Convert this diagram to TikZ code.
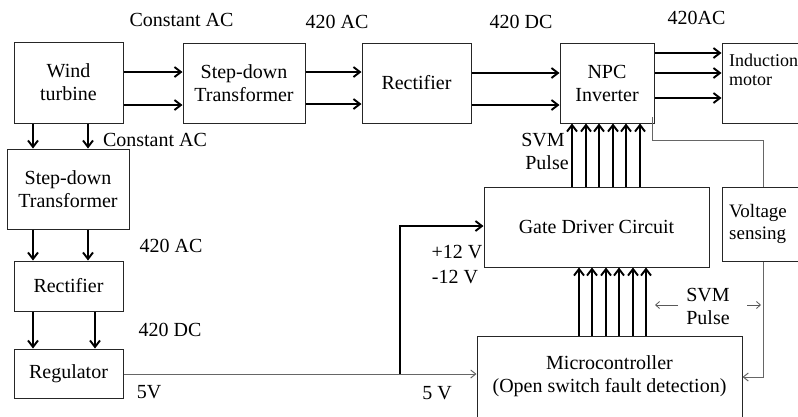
\documentclass[tikz,border=0pt]{standalone}
\usepackage{fontspec}
\setmainfont{Liberation Serif}
\usetikzlibrary{arrows.meta}
\begin{document}
\begin{tikzpicture}[x=1pt,y=-1pt,
  every node/.style={font=\fontsize{20}{23}\selectfont, inner sep=0pt},
  box/.style={draw=black!85, line width=1pt, align=center},
  arr/.style={line width=1.9pt, -{Straight Barb[length=6.5pt,width=10pt]}},
  gline/.style={draw=black!60, line width=1pt},
  garr/.style={draw=black!60, line width=1pt, -{Straight Barb[length=5pt,width=8pt]}},
  sarr/.style={draw=black!65, line width=0.8pt, -{Straight Barb[length=4pt,width=7pt]}},
  lbl/.style={anchor=center}]
\useasboundingbox (0,0) rectangle (798,416);
\clip (0,0) rectangle (798,416);
% boxes
\node[box, minimum width=109pt, minimum height=81pt] (wt) at (68.5,82.5) {Wind\\turbine};
\node[box, minimum width=122pt, minimum height=80pt] (sdt1) at (244,83) {Step-down\\Transformer};
\node[box, minimum width=109pt, minimum height=80pt] (rect1) at (416.5,83) {Rectifier};
\node[box, minimum width=94pt, minimum height=80pt] (npc) at (607,83) {NPC\\Inverter};
\node[box, minimum width=82pt, minimum height=80pt] (motor) at (763,83) {};
\node[anchor=north west, align=left, font=\fontsize{18}{19}\selectfont] (motortxt) at (729,54) {Induction\\motor};
\node[box, minimum width=122pt, minimum height=80pt] (sdt2) at (68,189) {Step-down\\Transformer};
\node[box, minimum width=109pt, minimum height=50pt] (rect2) at (68.5,286) {Rectifier};
\node[box, minimum width=109pt, minimum height=49pt] (reg) at (68.5,373.5) {Regulator};
\node[box, minimum width=225pt, minimum height=80pt] (gate) at (596.5,227) {Gate Driver Circuit};
\node[box, minimum width=82pt, minimum height=74pt] (vs) at (763,224) {};
\node[anchor=west, align=left, font=\fontsize{19}{22}\selectfont] (vstxt) at (729,224) {Voltage\\sensing};
\node[box, minimum width=265pt, minimum height=81pt] (micro) at (609.5,376.5) {Microcontroller\\(Open switch fault detection)};
% labels
\node[lbl] (l1) at (181.5,20) {Constant AC};
\node[lbl] (l2) at (337,22) {420 AC};
\node[lbl] (l3) at (521,22) {420 DC};
\node[lbl] (l4) at (696.5,18) {420AC};
\node[lbl] (l5) at (155,140) {Constant AC};
\node[lbl] (l6) at (171,246) {420 AC};
\node[lbl] (l7) at (170,330) {420 DC};
\node[lbl] (l8) at (149,392) {5V};
\node[lbl] (l9) at (437,393) {5 V};
\node[lbl] (l10) at (457,252) {+12 V};
\node[lbl] (l11) at (455,277) {-12 V};
\node[lbl, align=center] (l12) at (543,151) {SVM\\\hspace*{8pt}Pulse};
\node[lbl, align=left] (l13) at (708,306) {SVM\\Pulse};
% top row arrows
\foreach \y in {72,105} \draw[arr] (wt.east |- 0,\y) -- (sdt1.west |- 0,\y);
\foreach \y in {72,104} \draw[arr] (sdt1.east |- 0,\y) -- (rect1.west |- 0,\y);
\foreach \y in {73,105} \draw[arr] (rect1.east |- 0,\y) -- (npc.west |- 0,\y);
\foreach \y in {53,73,98} \draw[arr] (npc.east |- 0,\y) -- (motor.west |- 0,\y);
% left column arrows
\foreach \x in {33,88} \draw[arr] (wt.south -| \x,0) -- (sdt2.north -| \x,0);
\foreach \x in {33,88} \draw[arr] (sdt2.south -| \x,0) -- (rect2.north -| \x,0);
\foreach \x in {33,95} \draw[arr] (rect2.south -| \x,0) -- (reg.north -| \x,0);
% gate driver to NPC
\foreach \x in {572,586,599,613,626,640} \draw[arr] (gate.north -| \x,0) -- (npc.south -| \x,0);
% micro to gate driver
\foreach \x in {579,592,606,619,633,646} \draw[arr] (micro.north -| \x,0) -- (gate.south -| \x,0);
% supply lines
\coordinate (j) at (400,374);
\draw[garr] (reg.east |- 0,374) -- (micro.west |- 0,374);
\draw[arr] (j) |- (gate.west |- 0,226);
% voltage sensing loop
\coordinate (ns) at (652,117);
\draw[gline] (ns) |- (vs.north |- 0,140) -- (vs.north);
\draw[garr] (vs.south) |- (micro.east |- 0,377);
% small SVM arrows
\coordinate (sa1) at (678,305);
\coordinate (sa2) at (655,305);
\coordinate (sb1) at (747,305);
\coordinate (sb2) at (761,305);
\draw[sarr] (sa1) -- (sa2);
\draw[sarr] (sb1) -- (sb2);
\end{tikzpicture}
\end{document}
